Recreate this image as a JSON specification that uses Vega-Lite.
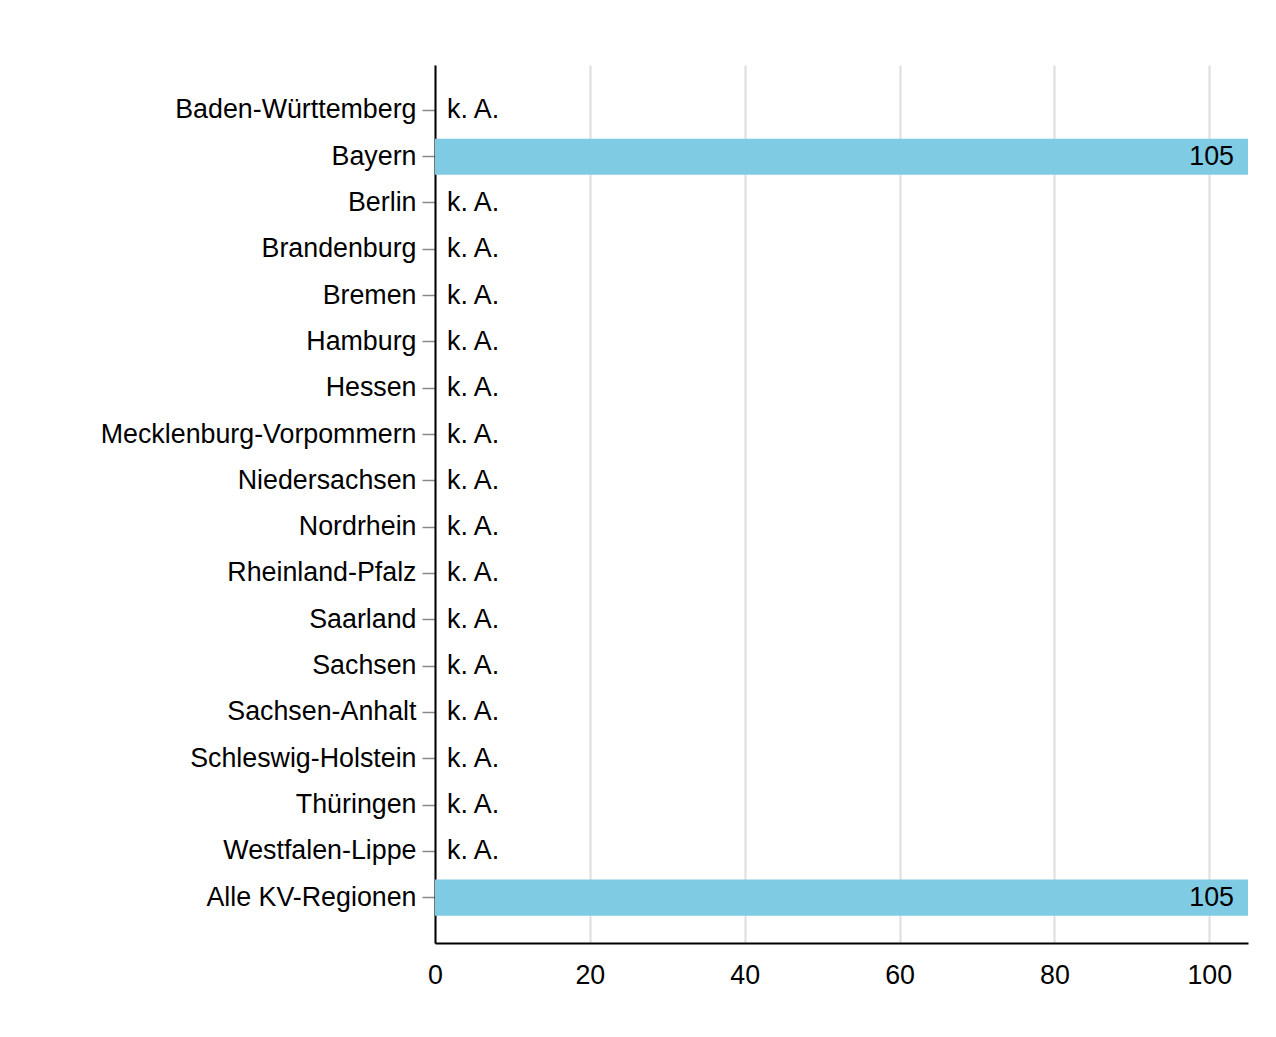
{
  "$schema": "https://vega.github.io/schema/vega-lite/v6.json",
  "autosize": {"type": "none"},
  "padding": {"left": 435, "top": 65, "right": 28, "bottom": 94},
  "width": 813,
  "height": 878,
  "background": "white",
  "config": {
    "font": "Liberation Sans",
    "view": {"stroke": null},
    "axis": {"labelFont": "Liberation Sans", "labelColor": "black", "labelFontSize": 26.8, "title": null},
    "axisX": {
      "domainColor": "black",
      "domainWidth": 2,
      "ticks": false,
      "labelPadding": 19,
      "labelFlush": false,
      "grid": true,
      "gridColor": "#dddddd",
      "gridWidth": 2
    },
    "axisY": {
      "domainColor": "black",
      "domainWidth": 2,
      "tickColor": "#888888",
      "tickSize": 13,
      "tickWidth": 1.5,
      "labelPadding": 6,
      "labelLimit": 0,
      "grid": false
    }
  },
  "data": {
    "values": [
      {"region": "Baden-Württemberg", "value": null, "label": "k. A."},
      {"region": "Bayern", "value": 105, "label": "105"},
      {"region": "Berlin", "value": null, "label": "k. A."},
      {"region": "Brandenburg", "value": null, "label": "k. A."},
      {"region": "Bremen", "value": null, "label": "k. A."},
      {"region": "Hamburg", "value": null, "label": "k. A."},
      {"region": "Hessen", "value": null, "label": "k. A."},
      {"region": "Mecklenburg-Vorpommern", "value": null, "label": "k. A."},
      {"region": "Niedersachsen", "value": null, "label": "k. A."},
      {"region": "Nordrhein", "value": null, "label": "k. A."},
      {"region": "Rheinland-Pfalz", "value": null, "label": "k. A."},
      {"region": "Saarland", "value": null, "label": "k. A."},
      {"region": "Sachsen", "value": null, "label": "k. A."},
      {"region": "Sachsen-Anhalt", "value": null, "label": "k. A."},
      {"region": "Schleswig-Holstein", "value": null, "label": "k. A."},
      {"region": "Thüringen", "value": null, "label": "k. A."},
      {"region": "Westfalen-Lippe", "value": null, "label": "k. A."},
      {"region": "Alle KV-Regionen", "value": 105, "label": "105"}
    ]
  },
  "encoding": {
    "y": {
      "field": "region",
      "type": "nominal",
      "sort": null,
      "scale": {
        "domain": ["Baden-Württemberg", "Bayern", "Berlin", "Brandenburg", "Bremen", "Hamburg", "Hessen", "Mecklenburg-Vorpommern", "Niedersachsen", "Nordrhein", "Rheinland-Pfalz", "Saarland", "Sachsen", "Sachsen-Anhalt", "Schleswig-Holstein", "Thüringen", "Westfalen-Lippe", "Alle KV-Regionen"],
        "paddingInner": 0.22,
        "paddingOuter": 0.59
      }
    }
  },
  "layer": [
    {
      "transform": [{"filter": "datum.value != null"}],
      "mark": {"type": "bar", "color": "#7fcbe3"},
      "encoding": {
        "x": {
          "field": "value",
          "type": "quantitative",
          "scale": {"domain": [0, 105], "nice": false, "zero": true},
          "axis": {"values": [0, 20, 40, 60, 80, 100]}
        }
      }
    },
    {
      "transform": [{"filter": "datum.value != null"}],
      "mark": {"type": "text", "align": "right", "baseline": "middle", "dx": -14, "fontSize": 26.8, "color": "black"},
      "encoding": {
        "x": {"field": "value", "type": "quantitative"},
        "text": {"field": "label"}
      }
    },
    {
      "transform": [{"filter": "datum.value == null"}],
      "mark": {"type": "text", "align": "left", "baseline": "middle", "dx": 12, "fontSize": 26.8, "color": "black"},
      "encoding": {
        "x": {"datum": 0, "type": "quantitative"},
        "text": {"field": "label"}
      }
    }
  ]
}
